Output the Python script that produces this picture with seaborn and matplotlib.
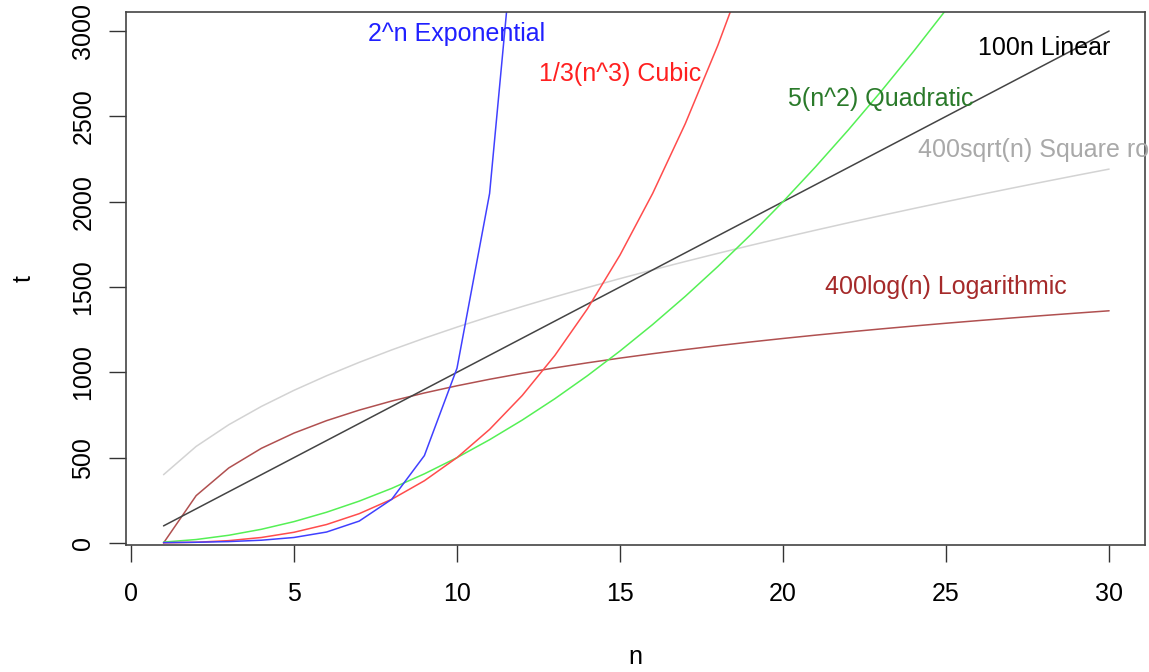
import matplotlib
matplotlib.use("Agg")
import matplotlib.pyplot as plt
import seaborn as sns
import pandas as pd

# valores (n = 1..30)
n = list(range(1, 31))
exp_t = [2, 4, 8, 16, 32, 64, 128, 256, 512, 1024, 2048, 4096]
cubic_t = [0.5, 4, 13.5, 32, 62.5, 108, 171.5, 256, 364.5, 500, 665.5, 864,
           1098.5, 1372, 1687.5, 2048, 2456.5, 2916, 3429.5]
quad_t = [5, 20, 45, 80, 125, 180, 245, 320, 405, 500, 605, 720, 845, 980,
          1125, 1280, 1445, 1620, 1805, 2000, 2205, 2420, 2645, 2880, 3125]
linear_t = [100, 200, 300, 400, 500, 600, 700, 800, 900, 1000, 1100, 1200,
            1300, 1400, 1500, 1600, 1700, 1800, 1900, 2000, 2100, 2200, 2300,
            2400, 2500, 2600, 2700, 2800, 2900, 3000]
sqrt_t = [400, 565.7, 692.8, 800, 894.4, 979.8, 1058.3, 1131.4, 1200, 1264.9,
          1326.7, 1385.6, 1442.2, 1496.7, 1549.2, 1600, 1649.2, 1697.1, 1743.6,
          1788.9, 1833.0, 1876.2, 1918.3, 1959.6, 2000, 2039.6, 2078.5, 2116.6,
          2154.1, 2190.9]
log_t = [0, 277.3, 439.4, 554.5, 643.8, 716.7, 778.4, 831.8, 878.9, 921.0,
         959.2, 994.0, 1026.0, 1055.6, 1083.2, 1109.0, 1133.3, 1156.1, 1177.8,
         1198.3, 1217.8, 1236.4, 1254.2, 1271.2, 1287.6, 1303.2, 1318.3, 1332.9,
         1346.9, 1360.5]

labels = ["400sqrt(n) Square root", "400log(n) Logarithmic", "100n Linear",
          "5(n^2) Quadratic", "1/3(n^3) Cubic", "2^n Exponential"]
label_x = [28, 25, 28, 23, 15, 10]
label_y = [2300, 1500, 2900, 2600, 2750, 2980]

series = [sqrt_t, log_t, linear_t, quad_t, cubic_t, exp_t]
line_colors = ["#d3d3d3", "#b05050", "#444444", "#55f055", "#ff4c4c", "#4040ff"]
text_colors = ["#a9a9a9", "#a52a2a", "#000000", "#2a7a2a", "#ff2020", "#2020ff"]

sns.set_style("white")
plt.rcParams["font.family"] = ["Liberation Sans", "DejaVu Sans"]

fig = plt.figure(figsize=(11.49, 6.72), dpi=100)
ax = fig.add_axes([0.1097, 0.189, 0.9965 - 0.1097, 0.982 - 0.189])

for vals, lc in zip(series, line_colors):
    df = pd.DataFrame({"n": n[:len(vals)], "t": vals})
    sns.lineplot(data=df, x="n", y="t", color=lc, linewidth=1.1, ax=ax)

for lab, x, y, tc in zip(labels, label_x, label_y, text_colors):
    ax.text(x, y, lab, color=tc, fontsize=18, ha="center", va="center",
            clip_on=False)

ax.set_xlim(-0.15, 31.1)
ax.set_ylim(-12, 3111)
ax.set_xticks([0, 5, 10, 15, 20, 25, 30])
ax.set_yticks([0, 500, 1000, 1500, 2000, 2500, 3000])
ax.set_xlabel("n", fontsize=18, labelpad=28, color="black")
ax.set_ylabel("t", fontsize=18, labelpad=26, color="black")
ax.tick_params(axis="both", direction="out", length=12, width=1,
               color="#333333", labelsize=18, pad=15, labelcolor="black",
               left=True, bottom=True)
ax.tick_params(axis="y", pad=10)
for lbl in ax.get_yticklabels():
    lbl.set_rotation(90)
    lbl.set_va("center")
for sp in ax.spines.values():
    sp.set_color("#444444")
    sp.set_linewidth(1.2)

fig.savefig("out.png", dpi=100)
